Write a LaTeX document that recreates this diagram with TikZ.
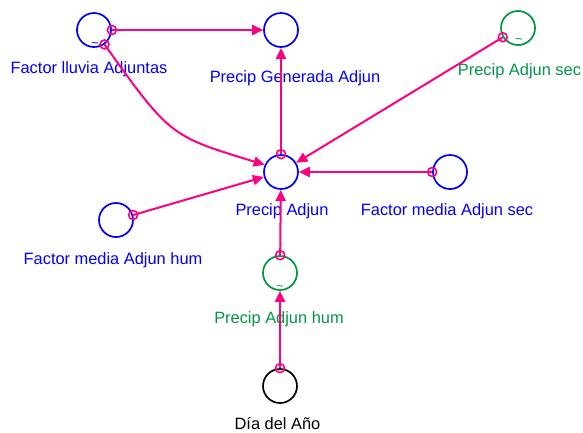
\documentclass[tikz,border=0pt]{standalone}
\usepackage{fontspec}
\setmainfont{Liberation Sans}
\usetikzlibrary{arrows.meta}
\definecolor{vblue}{RGB}{0,0,255}
\definecolor{vgreen}{RGB}{0,150,70}
\definecolor{vmag}{RGB}{255,0,128}
\tikzset{
  var/.style={circle, draw, line width=1.7pt, minimum size=34pt, inner sep=0pt},
  lab/.style={anchor=base, inner sep=0pt, font=\fontsize{16.4}{19}\selectfont},
  tild/.style={inner sep=0pt, font=\fontsize{13}{13}\selectfont},
  link/.style={vmag, line width=2pt, -{Triangle[length=11pt,width=10pt]}},
  orig/.style={circle, draw=vmag, line width=1.6pt, minimum size=9pt, inner sep=0pt},
}
\begin{document}
\begin{tikzpicture}[x=1pt,y=-1pt]
\useasboundingbox (0,0) rectangle (583,432);
% variables
\node[var, draw=vblue] (fl) at (94,30) {};
\node[var, draw=vblue] (pg) at (281,30) {};
\node[var, draw=vgreen] (ps) at (518,28) {};
\node[var, draw=vblue] (pa) at (281,172) {};
\node[var, draw=vblue] (fs) at (450,172) {};
\node[var, draw=vblue] (fh) at (116,220) {};
\node[var, draw=vgreen] (ph) at (280,273) {};
\node[var, draw=black] (da) at (280,386) {};
% tildes
\node[tild, text=vblue] (tfl) at (95,45) {\textasciitilde};
\node[tild, text=vgreen] (tps) at (519,41) {\textasciitilde};
\node[tild, text=vgreen] (tph) at (280,288) {\textasciitilde};
% labels
\node[lab, text=vblue] (lfl) at (89,73) {Factor lluvia Adjuntas};
\node[lab, text=vblue] (lpg) at (295,82) {Precip Generada Adjun};
\node[lab, text=vgreen] (lps) at (519.5,75) {Precip Adjun sec};
\node[lab, text=vblue] (lpa) at (282,215) {Precip Adjun};
\node[lab, text=vblue] (lfs) at (447,215) {Factor media Adjun sec};
\node[lab, text=vblue] (lfh) at (113,264) {Factor media Adjun hum};
\node[lab, text=vgreen] (lph) at (279,323) {Precip Adjun hum};
\node[lab, text=black] (lda) at (277.5,429) {Día del Año};
% connectors
\draw[link] (fl) -- (pg) node[orig, pos=0] (o1) {};
\draw[link] (fl.-54) .. controls (170,136) .. (pa.156) node[orig, pos=0] (o2) {};
\draw[link] (pa) -- (pg) node[orig, pos=0] (o3) {};
\draw[link] (ps) -- (pa) node[orig, pos=0] (o4) {};
\draw[link] (fs) -- (pa) node[orig, pos=0] (o5) {};
\draw[link] (fh) -- (pa) node[orig, pos=0] (o6) {};
\draw[link] (ph) -- (pa) node[orig, pos=0] (o7) {};
\draw[link] (da) -- (ph) node[orig, pos=0] (o8) {};
\end{tikzpicture}
\end{document}
